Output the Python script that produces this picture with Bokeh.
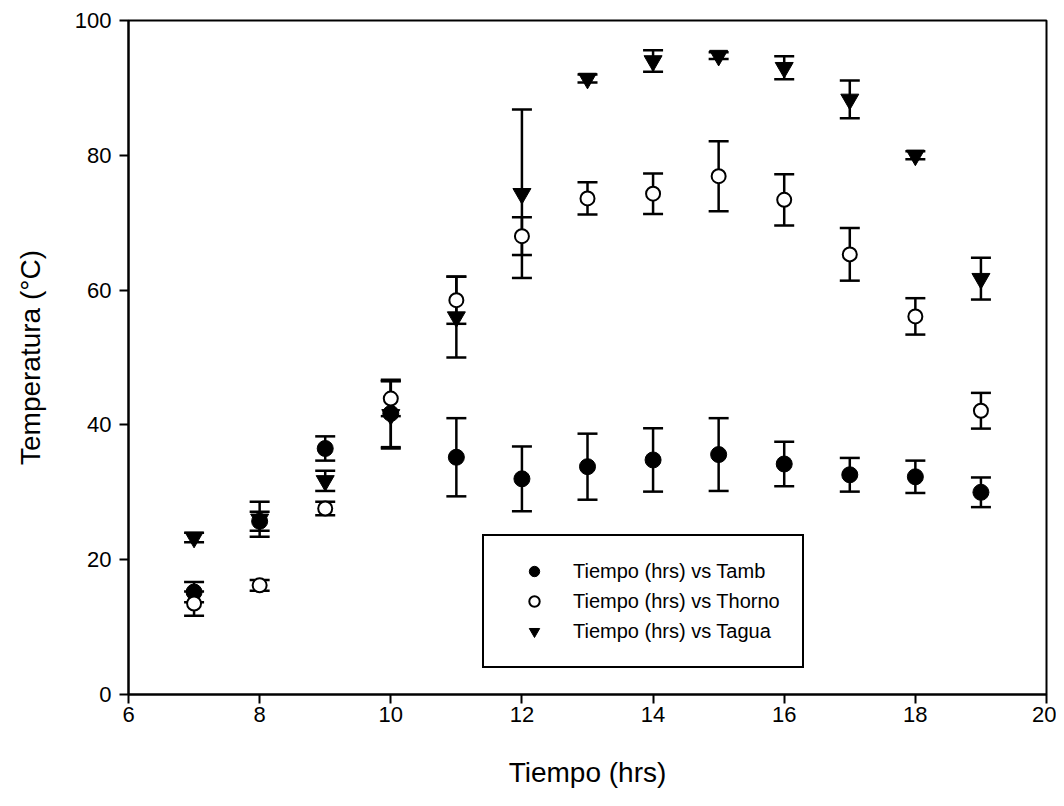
from bokeh.plotting import figure
from bokeh.models import (ColumnDataSource, Whisker, TeeHead, Legend, LegendItem,
                          FixedTicker, Range1d)
from bokeh.embed import file_html
from bokeh.resources import INLINE

# ---- data ----
hours = [7, 8, 9, 10, 11, 12, 13, 14, 15, 16, 17, 18, 19]

tamb = [15.2, 25.7, 36.5, 41.7, 35.2, 32.0, 33.8, 34.8, 35.6, 34.2, 32.6, 32.3, 30.0]
tamb_sd = [1.5, 1.4, 1.8, 5.0, 5.8, 4.8, 4.9, 4.7, 5.4, 3.3, 2.5, 2.4, 2.2]

thorno = [13.5, 16.2, 27.6, 43.9, 58.5, 68.0, 73.6, 74.3, 76.9, 73.4, 65.3, 56.1, 42.1]
thorno_sd = [1.8, 0.8, 1.0, 2.6, 3.5, 2.8, 2.4, 3.0, 5.2, 3.8, 3.9, 2.7, 2.65]

tagua = [23.3, 26.0, 31.7, 41.5, 56.0, 74.3, 91.4, 94.0, 94.8, 93.0, 88.3, 80.0, 61.7]
tagua_sd = [0.7, 2.6, 1.5, 5.0, 6.0, 12.5, 0.6, 1.6, 0.5, 1.7, 2.8, 0.6, 3.1]

labels = ["Tiempo (hrs) vs Tamb", "Tiempo (hrs) vs Thorno", "Tiempo (hrs) vs Tagua"]
x_ticks = [6, 8, 10, 12, 14, 16, 18, 20]
y_ticks = [0, 20, 40, 60, 80, 100]

FONT = "Liberation Sans"

p = figure(frame_width=918, frame_height=674,
           min_border_left=128, min_border_right=10, min_border_top=20, min_border_bottom=90,
           x_range=Range1d(6, 20), y_range=Range1d(0, 100),
           output_backend="svg", toolbar_location=None,
           x_axis_label="Tiempo (hrs)", y_axis_label="Temperatura (°C)")

p.background_fill_color = "white"
p.border_fill_color = "white"
p.grid.visible = False
p.outline_line_color = "black"
p.outline_line_width = 2
p.outline_line_alpha = 1

for ax, ticks in ((p.xaxis[0], x_ticks), (p.yaxis[0], y_ticks)):
    ax.ticker = FixedTicker(ticks=ticks)
    ax.axis_line_width = 2
    ax.axis_line_color = "black"
    ax.major_tick_line_width = 2
    ax.major_tick_line_color = "black"
    ax.major_tick_out = 9
    ax.major_tick_in = 0
    ax.minor_tick_line_color = None
    ax.major_label_text_font = FONT
    ax.major_label_text_font_size = "22px"
    ax.major_label_text_color = "black"
    ax.axis_label_text_font = FONT
    ax.axis_label_text_font_size = "28px"
    ax.axis_label_text_font_style = "normal"
    ax.axis_label_text_color = "black"

p.xaxis[0].major_label_standoff = 3
p.xaxis[0].axis_label_standoff = 32
p.yaxis[0].major_label_standoff = 8
p.yaxis[0].axis_label_standoff = 26


def add_series(vals, sds):
    src = ColumnDataSource(dict(
        x=hours, y=vals,
        upper=[v + s for v, s in zip(vals, sds)],
        lower=[v - s for v, s in zip(vals, sds)]))
    w = Whisker(source=src, base="x", upper="upper", lower="lower", dimension="height",
                line_width=2.5, line_color="black",
                upper_head=TeeHead(size=20, line_width=2.5, line_color="black"),
                lower_head=TeeHead(size=20, line_width=2.5, line_color="black"))
    p.add_layout(w)
    return src


s1 = add_series(tamb, tamb_sd)
s2 = add_series(thorno, thorno_sd)
s3 = add_series(tagua, tagua_sd)

r1 = p.scatter("x", "y", source=s1, marker="circle", size=16,
               fill_color="black", line_color="black")
r2 = p.scatter("x", "y", source=s2, marker="circle", size=14,
               fill_color="white", line_color="black", line_width=2)
r3 = p.scatter("x", "y", source=s3, marker="inverted_triangle", size=18,
               fill_color="black", line_color="black")

legend = Legend(items=[LegendItem(label=labels[0], renderers=[r1]),
                       LegendItem(label=labels[1], renderers=[r2]),
                       LegendItem(label=labels[2], renderers=[r3])],
                location=(354, 26),
                border_line_color="black", border_line_width=2, border_line_alpha=1,
                background_fill_color="white", background_fill_alpha=1,
                label_text_font=FONT, label_text_font_size="20px",
                label_text_color="black",
                padding=22, spacing=4, margin=0,
                glyph_width=56, glyph_height=26, label_height=26,
                label_standoff=11)
p.add_layout(legend, "center")

open("out.html", "w").write(file_html(p, INLINE))
